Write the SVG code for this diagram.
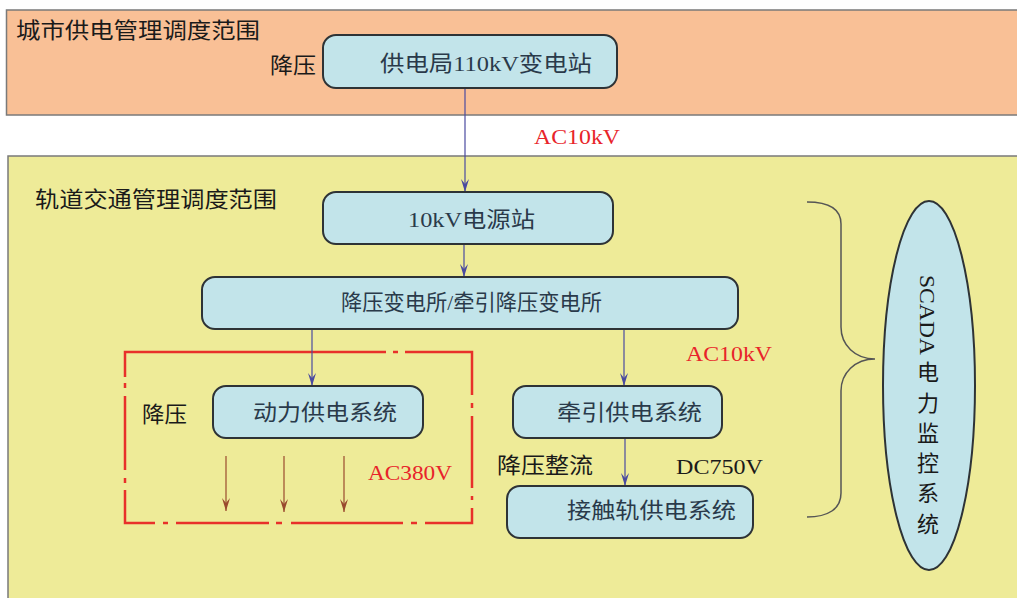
<svg xmlns="http://www.w3.org/2000/svg" width="1017" height="598" viewBox="0 0 1017 598">
<defs>
<style>
.area{stroke:#7a7a7a;stroke-width:1.5}
.box{fill:#c2e4ea;stroke:#2e3336;stroke-width:2}
.t{font-family:"Liberation Serif","Noto Sans CJK SC",serif;font-size:22px}
.bt{fill:#2a3a4a}
.red{fill:#e8242a}
.blk{fill:#1a1a1a}
.conn{stroke:#4a4aa0;stroke-width:1.2;fill:none}
.brn{stroke:#9a4a2e;stroke-width:1.2;fill:none}
</style>
<marker id="ab" markerWidth="14" markerHeight="8" refX="13" refY="4" orient="auto" markerUnits="userSpaceOnUse" viewBox="0 0 14 8">
<path d="M0,0 L13,4 L0,8 L5,4 Z" fill="#4a4aa0"/>
</marker>
<marker id="ar" markerWidth="14" markerHeight="8" refX="13" refY="4" orient="auto" markerUnits="userSpaceOnUse" viewBox="0 0 14 8">
<path d="M0,0 L13,4 L0,8 L5,4 Z" fill="#9a4a2e"/>
</marker>
</defs>
<rect width="1017" height="598" fill="#ffffff"/>
<g id="area-city">
<rect class="area" x="6.5" y="10" width="1030" height="105" fill="#f9c096"/>
<text class="t blk" x="16" y="38" textLength="244" lengthAdjust="spacingAndGlyphs">城市供电管理调度范围</text>
<text class="t blk" x="270" y="73" textLength="46" lengthAdjust="spacingAndGlyphs">降压</text>
</g>
<g id="area-rail">
<rect class="area" x="8" y="156" width="1030" height="460" fill="#eeeb98"/>
<text class="t blk" x="35" y="207" textLength="242" lengthAdjust="spacingAndGlyphs">轨道交通管理调度范围</text>
</g>
<g id="power-box">
<path d="M125,377 V352 H386 M393,352 H398 M405,352 H472 V395 M472,403 V408 M472,416 V488 M472,496 V500 M472,508 V523 H425 M417,523 H411 M403,523 H291 M282,523 H276 M269,523 H176 M168,523 H163 M155,523 H125 V490 M125,483 V478 M125,470 V396 M125,388 V383" fill="none" stroke="#e8302a" stroke-width="2.5"/>
<text class="t blk" x="142" y="422" textLength="45" lengthAdjust="spacingAndGlyphs">降压</text>
<text class="t red" x="368" y="480" textLength="84" lengthAdjust="spacingAndGlyphs">AC380V</text>
</g>
<g id="connectors">
<line class="conn" x1="465" y1="88" x2="465" y2="192" marker-end="url(#ab)"/>
<line class="conn" x1="464" y1="244" x2="464" y2="277" marker-end="url(#ab)"/>
<line class="conn" x1="312" y1="329" x2="312" y2="386" marker-end="url(#ab)"/>
<line class="conn" x1="624" y1="329" x2="624" y2="386" marker-end="url(#ab)"/>
<line class="conn" x1="625" y1="438" x2="625" y2="486" marker-end="url(#ab)"/>
<line class="brn" x1="226" y1="456" x2="226" y2="511" marker-end="url(#ar)"/>
<line class="brn" x1="284" y1="456" x2="284" y2="512" marker-end="url(#ar)"/>
<line class="brn" x1="344" y1="456" x2="344" y2="512" marker-end="url(#ar)"/>
<path d="M807,202 C828,202 841,208 841,224 V327 C841,345 855,359 875,359 C855,359 841,373 841,391 V493 C841,509 828,517 807,517" fill="none" stroke="#555" stroke-width="1.5"/>
</g>
<g id="labels">
<text class="t red" x="534" y="144" textLength="86" lengthAdjust="spacingAndGlyphs">AC10kV</text>
<text class="t red" x="686" y="361" textLength="86" lengthAdjust="spacingAndGlyphs">AC10kV</text>
<text class="t blk" x="497" y="473" textLength="96" lengthAdjust="spacingAndGlyphs">降压整流</text>
<text class="t blk" x="676" y="474" textLength="87" lengthAdjust="spacingAndGlyphs">DC750V</text>
</g>
<g id="n-110kv">
<rect class="box" x="323" y="35" width="294" height="53" rx="13"/>
<text class="t bt" x="380" y="71" textLength="212" lengthAdjust="spacingAndGlyphs">供电局110kV变电站</text>
</g>
<g id="n-10kv">
<rect class="box" x="323" y="192" width="290" height="52" rx="13"/>
<text class="t bt" x="408" y="227" textLength="127" lengthAdjust="spacingAndGlyphs">10kV电源站</text>
</g>
<g id="n-substation">
<rect class="box" x="202" y="277" width="536" height="52" rx="13"/>
<text class="t bt" x="341" y="310" textLength="261" lengthAdjust="spacingAndGlyphs">降压变电所/牵引降压变电所</text>
</g>
<g id="n-power">
<rect class="box" x="213" y="386" width="210" height="52" rx="13"/>
<text class="t bt" x="253" y="420" textLength="144" lengthAdjust="spacingAndGlyphs">动力供电系统</text>
</g>
<g id="n-traction">
<rect class="box" x="513" y="386" width="209" height="52" rx="13"/>
<text class="t bt" x="557" y="420" textLength="145" lengthAdjust="spacingAndGlyphs">牵引供电系统</text>
</g>
<g id="n-rail">
<rect class="box" x="507" y="486" width="246" height="52" rx="13"/>
<text class="t bt" x="567" y="518" textLength="169" lengthAdjust="spacingAndGlyphs">接触轨供电系统</text>
</g>
<g id="n-scada">
<ellipse cx="929" cy="385.5" rx="46" ry="184.5" fill="#c2e4ea" stroke="#2e3336" stroke-width="2"/>
<text class="t blk" transform="translate(920,275) rotate(90)" x="0" y="0" textLength="80" lengthAdjust="spacingAndGlyphs">SCADA</text>
<g class="t blk" text-anchor="middle">
<text x="928" y="380">电</text>
<text x="928" y="411">力</text>
<text x="928" y="441">监</text>
<text x="928" y="471">控</text>
<text x="928" y="501">系</text>
<text x="928" y="532">统</text>
</g>
</g>
</svg>
